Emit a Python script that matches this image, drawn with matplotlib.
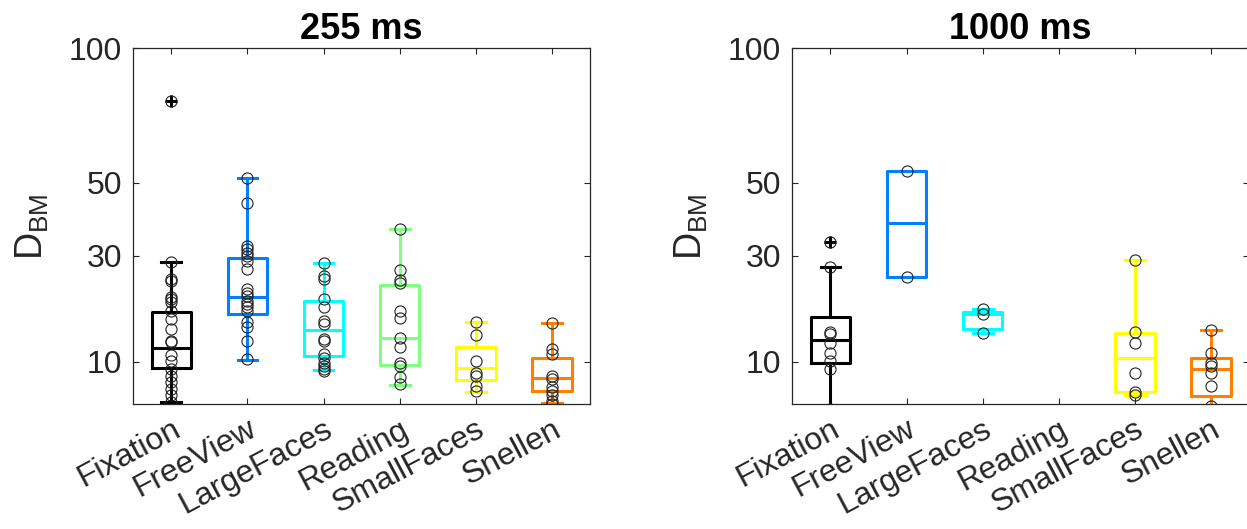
import matplotlib
matplotlib.use('Agg')
import matplotlib.pyplot as plt
import numpy as np

plt.rcParams['font.family'] = ['Liberation Sans', 'DejaVu Sans']

categories = ['Fixation', 'FreeView', 'LargeFaces', 'Reading', 'SmallFaces', 'Snellen']
box_colors = ['#000000', '#0080FF', '#00FFFF', '#80FF80', '#FFFF00', '#FF8000']
y_ticks = [10, 30, 50, 100]
titles = ['255 ms', '1000 ms']

# 255 ms: individual values per task
pts_255 = [
  [78.4, 28.6, 24.6, 24.3, 21.0, 20.5, 20.0, 18.3, 16.7, 15.0, 13.1, 12.9,
   10.9, 10.1, 9.0, 8.1, 7.4, 6.6, 5.9, 5.2],
  [51.5, 43.9, 32.3, 31.5, 30.7, 29.9, 28.7, 26.8, 22.5, 21.8, 21.1, 20.2,
   19.5, 18.9, 18.2, 16.2, 15.3, 13.1, 10.4],
  [28.2, 25.3, 24.6, 20.5, 18.9, 16.4, 15.9, 13.4, 13.1, 11.1, 10.6, 9.9,
   9.5, 9.0, 8.8],
  [36.6, 26.6, 24.5, 23.9, 18.2, 16.9, 13.5, 12.1, 9.9, 9.5, 8.0, 7.2],
  [16.3, 14.1, 10.1, 8.5, 8.2, 7.0, 6.4],
  [16.0, 11.8, 11.1, 8.2, 7.8, 6.8, 6.4, 5.9, 5.3, 5.0],
]
q1_255 = [9.15, 17.6, 10.8, 9.6, 7.6, 6.4]
med_255 = [12.0, 21.0, 14.8, 13.5, 9.2, 7.9]
q3_255 = [18.1, 29.4, 20.2, 23.5, 12.1, 10.6]
lo_255 = [5.2, 10.3, 8.9, 7.1, 6.3, 5.1]
hi_255 = [28.6, 51.5, 28.2, 36.6, 16.3, 16.0]
fliers_255 = [[78.4], [], [], [], [], []]

# 1000 ms (no Reading data)
pts_1000 = [
  [33.4, 27.4, 14.6, 14.2, 12.8, 11.3, 10.1, 9.0, 4.6],
  [53.8, 25.1],
  [18.6, 17.6, 14.3],
  [],
  [29.0, 14.5, 12.8, 8.5, 6.3, 5.9],
  [14.9, 11.2, 9.9, 9.5, 8.5, 6.9, 4.8],
]
q1_1000 = [9.9, 25.1, 15.1, None, 6.3, 5.8]
med_1000 = [13.2, 38.2, 17.6, None, 10.5, 9.0]
q3_1000 = [17.2, 53.8, 18.1, None, 14.3, 10.5]
lo_1000 = [4.6, 25.1, 14.3, None, 5.9, 4.8]
hi_1000 = [27.4, 53.8, 18.6, None, 29.0, 14.9]
fliers_1000 = [[33.4], [], [], [], [], []]

panels = [
  (pts_255, q1_255, med_255, q3_255, lo_255, hi_255, fliers_255),
  (pts_1000, q1_1000, med_1000, q3_1000, lo_1000, hi_1000, fliers_1000),
]

fig = plt.figure(figsize=(12.47, 5.29), dpi=100)
ax_rects = [
  [0.1069, 0.2357, 0.3662, 0.673],
  [0.6354, 0.2357, 0.3662, 0.673],
]

for k, (pts, q1, med, q3, lo, hi, fl) in enumerate(panels):
  ax = fig.add_axes(ax_rects[k])
  ax.set_yscale('function', functions=(lambda v: np.sqrt(np.clip(v, 0, None)), lambda v: v ** 2))

  for i in range(len(categories)):
    if med[i] is None:
      continue
    stats = [dict(med=med[i], q1=q1[i], q3=q3[i], whislo=lo[i], whishi=hi[i], fliers=fl[i])]
    c = box_colors[i]
    ax.bxp(
      stats, positions=[i + 1], widths=0.52, capwidths=0.26, showfliers=True,
      boxprops=dict(color=c, linewidth=2.2),
      medianprops=dict(color=c, linewidth=2.2),
      whiskerprops=dict(color=c, linewidth=2.2, linestyle='-'),
      capprops=dict(color=c, linewidth=2.2),
      flierprops=dict(marker='+', markeredgecolor='k', markersize=9, markeredgewidth=2.2),
      manage_ticks=False,
    )
    ax.plot(np.full(len(pts[i]), i + 1), pts[i], 'o', mfc='none', mec='#222222',
            ms=8, mew=0.8, zorder=5)

  ax.set_xlim(0.5, 6.5)
  ax.set_ylim(5, 100)
  ax.set_yticks(y_ticks)
  ax.set_yticklabels([str(t) for t in y_ticks])
  ax.minorticks_off()
  ax.set_xticks(range(1, len(categories) + 1))
  ax.set_xticklabels(categories, rotation=28, ha='right', va='top', rotation_mode='anchor')
  ax.tick_params(direction='in', top=True, right=True, length=4, width=0.8,
                 colors='#262626', labelsize=23)
  ax.tick_params(axis='y', pad=8)
  ax.tick_params(axis='x', pad=7)
  for s in ax.spines.values():
    s.set_color('#262626')
    s.set_linewidth(0.9)

  ax.set_title(titles[k], fontsize=26, fontweight='bold', pad=7)
  ax.set_ylabel(r'D$_{\mathregular{BM}}$', fontsize=27, color='#262626')
  ax.yaxis.set_label_coords(-0.18, 0.5)

plt.savefig('out.png', dpi=100)
